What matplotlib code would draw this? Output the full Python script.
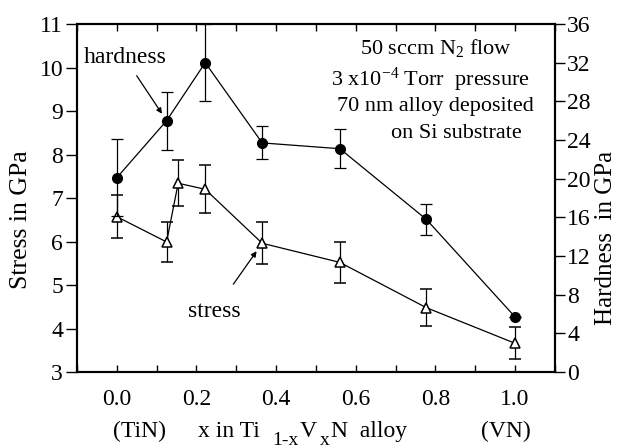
import matplotlib
matplotlib.use('Agg')
import matplotlib.pyplot as plt
from matplotlib.ticker import MultipleLocator

plt.rcParams['font.family'] = 'Liberation Serif'
plt.rcParams['mathtext.fontset'] = 'custom'
plt.rcParams['mathtext.rm'] = 'Liberation Serif'
plt.rcParams['mathtext.it'] = 'Liberation Serif'

# hardness (right axis, GPa)
x_hard = [0.0, 0.125, 0.222, 0.365, 0.56, 0.777, 1.0]
hardness = [20.1, 26.0, 32.0, 23.7, 23.1, 15.8, 5.7]
hard_err = [4.0, 3.0, 4.0, 1.7, 2.0, 1.6, 0.0]

# stress (left axis, GPa)
x_stress = [0.0, 0.125, 0.154, 0.222, 0.365, 0.56, 0.777, 1.0]
stress = [6.57, 5.99, 7.34, 7.2, 5.96, 5.52, 4.48, 3.66]
stress_err = [0.5, 0.47, 0.53, 0.55, 0.48, 0.47, 0.43, 0.37]

fig = plt.figure(figsize=(6.19, 4.48), dpi=100)
ax = fig.add_axes([0.1244, 0.1696, 0.772, 0.7768])
ax2 = ax.twinx()

ax.errorbar(x_stress, stress, yerr=stress_err, color='black', lw=0.9,
            marker='^', ms=7, mfc='white', mec='black', mew=1.1,
            capsize=4, elinewidth=0.9, capthick=0.9, zorder=3)
ax2.errorbar(x_hard, hardness, yerr=hard_err, color='black', lw=0.9,
             marker='o', ms=7, mfc='black', mec='black',
             capsize=4, elinewidth=0.9, capthick=0.9, zorder=3)

ax.set_xlim(-0.1, 1.1)
ax.set_ylim(3, 11)
ax2.set_ylim(0, 36)

ax.xaxis.set_major_locator(MultipleLocator(0.2))
ax.xaxis.set_minor_locator(MultipleLocator(0.1))
ax.xaxis.set_major_formatter(matplotlib.ticker.FormatStrFormatter('%.1f'))
ax.yaxis.set_major_locator(MultipleLocator(1))
ax2.yaxis.set_major_locator(MultipleLocator(4))

ax.tick_params(axis='x', which='both', direction='in', top=True,
               labelsize=17, pad=12, length=5, width=1)
ax.tick_params(axis='y', direction='out', length=8, width=1, labelsize=17, pad=2)
ax2.tick_params(axis='y', direction='out', length=7, width=1, labelsize=17, pad=2)

for a in (ax, ax2):
    for s in a.spines.values():
        s.set_linewidth(1.5)

fig.text(21 / 619, 1 - 220 / 448, 'Stress in GPa', fontsize=18.5,
         rotation=90, ha='center', va='center')
fig.text(606 / 619, 1 - 238 / 448, 'Hardness  in GPa', fontsize=18,
         rotation=90, ha='center', va='center')

# x label pieces
ykw = dict(fontsize=17, va='baseline')
fig.text(139 / 619, 1 - 437 / 448, '(TiN)', ha='center', **ykw)
fig.text(198 / 619, 1 - 437 / 448, 'x in Ti', ha='left', **ykw)
fig.text(272 / 619, 1 - 445 / 448, '1-x', ha='left', fontsize=14, va='baseline')
fig.text(300 / 619, 1 - 437 / 448, 'V', ha='left', **ykw)
fig.text(320 / 619, 1 - 445 / 448, 'x', ha='left', fontsize=14, va='baseline')
fig.text(331 / 619, 1 - 437 / 448, 'N  alloy', ha='left', **ykw)
fig.text(506 / 619, 1 - 437 / 448, '(VN)', ha='center', **ykw)

# conditions text
tkw = dict(transform=fig.transFigure, fontsize=16, ha='center', va='center')
ax.text(436 / 619, 1 - 48 / 448, r'50 sccm N$_2$ flow', **tkw)
ax.text(430 / 619, 1 - 80 / 448, r'3 x10$^{-4}$ Torr  pressure', **tkw)
ax.text(435 / 619, 1 - 107 / 448, '70 nm alloy deposited', **tkw)
ax.text(456 / 619, 1 - 133 / 448, 'on Si substrate', **tkw)

# annotations
ax2.annotate('hardness', xy=(x_hard[1], hardness[1]), xytext=(0.02, 32.5),
             fontsize=17, ha='center', va='center',
             arrowprops=dict(arrowstyle='-|>', color='black', lw=0.9,
                             shrinkA=4, shrinkB=6, mutation_scale=8))
ax.annotate('stress', xy=(x_stress[4], stress[4]), xytext=(0.245, 4.4),
            fontsize=17, ha='center', va='center',
            arrowprops=dict(arrowstyle='-|>', color='black', lw=0.9,
                            shrinkA=12, shrinkB=7, mutation_scale=8))

fig.savefig('out.png', dpi=100)
